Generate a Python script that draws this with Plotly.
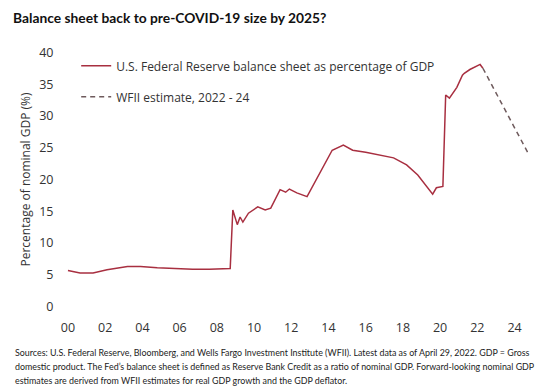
import plotly.graph_objects as go

# Fed balance sheet as % of nominal GDP (fractional years)
actual_years = [2000.0, 2000.65, 2001.35, 2002.1, 2003.2, 2003.9, 2004.8, 2005.6, 2006.7, 2007.6, 2008.5,
                2008.72, 2008.86, 2009.1, 2009.25, 2009.4, 2009.7, 2010.2, 2010.6, 2010.9, 2011.4, 2011.7,
                2011.9, 2012.3, 2012.85, 2014.2, 2014.8, 2015.3, 2016.0, 2016.8, 2017.5, 2018.2, 2018.8,
                2019.6, 2019.8, 2020.15, 2020.3, 2020.5, 2020.9, 2021.2, 2021.3, 2021.6, 2022.0, 2022.15, 2022.3]
actual_values = [5.7, 5.3, 5.3, 5.8, 6.3, 6.3, 6.1, 6.0, 5.9, 5.9, 5.9,
                 6.0, 15.2, 12.9, 14.1, 13.3, 14.7, 15.7, 15.2, 15.5, 18.4, 18.0,
                 18.5, 17.9, 17.3, 24.6, 25.4, 24.6, 24.3, 23.8, 23.4, 22.3, 20.7,
                 17.7, 18.7, 18.9, 33.3, 32.8, 34.5, 36.4, 36.7, 37.3, 37.9, 38.1, 37.5]

estimate_years = [2022.3, 2024.7]
estimate_values = [37.5, 24.3]

tick_years = [2000, 2002, 2004, 2006, 2008, 2010, 2012, 2014, 2016, 2018, 2020, 2022, 2024]
tick_labels = ["00", "02", "04", "06", "08", "10", "12", "14", "16", "18", "20", "22", "24"]
y_ticks = [0, 5, 10, 15, 20, 25, 30, 35, 40]

footnote_lines = [
    "Sources: U.S. Federal Reserve, Bloomberg, and Wells Fargo Investment Institute (WFII). Latest data as of April 29, 2022. GDP = Gross",
    "domestic product. The Fed\u2019s balance sheet is defined as Reserve Bank Credit as a ratio of nominal GDP. Forward-looking nominal GDP",
    "estimates are derived from WFII estimates for real GDP growth and the GDP deflator.",
]

FONT = "Open Sans"
TXT = "#333333"

fig = go.Figure()
fig.add_trace(go.Scatter(
    x=actual_years, y=actual_values, mode="lines",
    name="U.S. Federal Reserve balance sheet as percentage of GDP",
    line=dict(color="#a82f40", width=1.5), legendgroup="a"))
fig.add_trace(go.Scatter(
    x=estimate_years, y=estimate_values, mode="lines",
    name="WFII estimate, 2022 - 24",
    line=dict(color="#6e5a5c", width=1.5, dash="5px,4px"), legendgroup="b"))

fig.update_layout(
    width=541, height=389,
    margin=dict(l=62, r=6, t=46, b=76),
    paper_bgcolor="white", plot_bgcolor="white",
    font=dict(family=FONT, color=TXT, size=12),
    title=dict(text="<b>Balance sheet back to pre-COVID-19 size by 2025?</b>",
               x=13/541, xref="container", xanchor="left", y=1 - 18/389, yref="container", yanchor="middle",
               font=dict(family="Lato", size=13.8, color="#111111")),
    showlegend=True,
    legend=dict(x=0.03, y=0.98, xanchor="left", yanchor="top",
                bgcolor="rgba(0,0,0,0)", font=dict(size=12, color=TXT),
                tracegroupgap=12, itemwidth=30),
    xaxis=dict(range=[1999.68, 2025.1], tickvals=tick_years, ticktext=tick_labels,
               showgrid=False, zeroline=False, showline=False,
               ticks="outside", ticklen=3, tickcolor="rgba(0,0,0,0)",
               tickfont=dict(size=12.5, color=TXT)),
    yaxis=dict(range=[-1, 41], tickvals=y_ticks, showgrid=False, zeroline=False, showline=False,
               ticks="outside", ticklen=5, tickcolor="rgba(0,0,0,0)",
               tickfont=dict(size=12.5, color=TXT),
               title=dict(text="Percentage of nominal GDP (%)", standoff=6,
                          font=dict(size=12, color=TXT))),
)

for i, line in enumerate(footnote_lines):
    fig.add_annotation(text=line, xref="paper", yref="paper", x=-49/473,
                       y=(389 - 76 - (352 + 14 * i)) / 267.0,
                       xanchor="left", yanchor="middle", showarrow=False, align="left",
                       font=dict(family="Lato", size=8.9, color="#222222"))

fig.write_html("out.html")
